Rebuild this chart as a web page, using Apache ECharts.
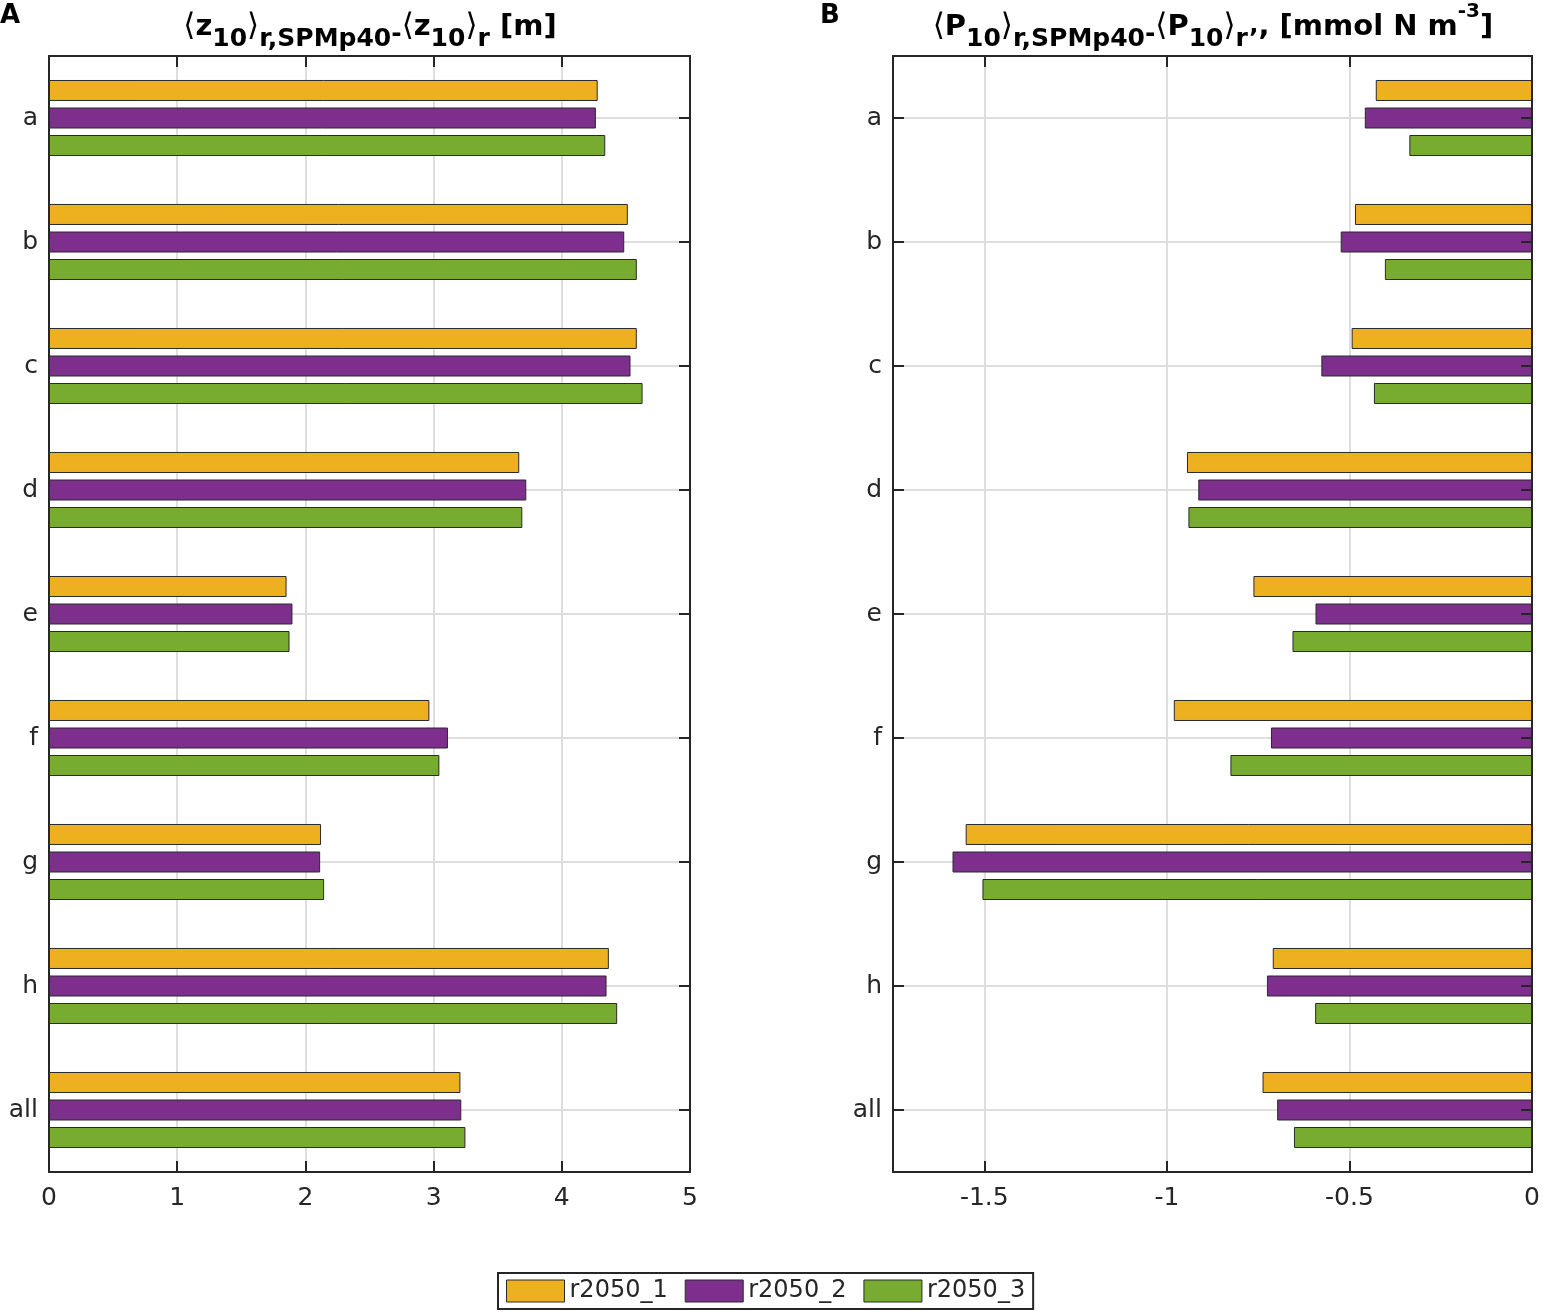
<!DOCTYPE html>
<html><head><meta charset="utf-8">
<script src="https://cdn.jsdelivr.net/npm/echarts@6/dist/echarts.min.js"></script>
<style>html,body{margin:0;padding:0;background:#fff;overflow:hidden}#c{width:1543px;height:1312px}</style>
</head><body><div id="c"></div>
<script>
const categories = ['a','b','c','d','e','f','g','h','all'];
const seriesNames = ['r2050_1','r2050_2','r2050_3'];
const colors = ['#EDB120','#7E2F8E','#77AC30'];
// Panel A: <z10>r,SPMp40 - <z10>r [m]
const zA_r2050_1 = [4.28, 4.515, 4.585, 3.668, 1.853, 2.967, 2.122, 4.367, 3.209];
const zA_r2050_2 = [4.266, 4.487, 4.536, 3.723, 1.899, 3.112, 2.115, 4.349, 3.216];
const zA_r2050_3 = [4.339, 4.585, 4.630, 3.692, 1.876, 3.045, 2.146, 4.432, 3.248];
// Panel B: <P10>r,SPMp40 - <P10>r [mmol N m-3]
const pB_r2050_1 = [-0.428, -0.485, -0.494, -0.945, -0.763, -0.981, -1.551, -0.710, -0.738];
const pB_r2050_2 = [-0.458, -0.524, -0.577, -0.914, -0.593, -0.715, -1.587, -0.726, -0.698];
const pB_r2050_3 = [-0.336, -0.403, -0.433, -0.941, -0.656, -0.826, -1.505, -0.594, -0.652];
const xRangeA = [0, 5];
const xRangeB = [-1.75, 0];

const FONT = 'DejaVu Sans';
const AX = '#262626';
const GRIDC = '#dedede';

function xAx(grid, range, pos, labels, split, interval, z) {
  const o = {
    type: 'value', gridIndex: grid, min: range[0], max: range[1], position: pos, z: z,
    axisLine: {show: true, onZero: false, lineStyle: {color: AX, width: 2}},
    axisTick: {show: true, inside: true, length: 11, lineStyle: {color: AX, width: 2}},
    axisLabel: {show: labels, fontSize: 25, color: AX, fontFamily: FONT, margin: 14,
      formatter: v => (v === -1.75 ? '' : String(v))},
    splitLine: {show: split, lineStyle: {color: GRIDC, width: 2}}
  };
  if (interval) o.interval = interval; else o.splitNumber = 4;
  return o;
}
function yAx(grid, pos, labels, split, z) {
  return {
    type: 'category', gridIndex: grid, data: categories, inverse: true, position: pos, z: z,
    axisLine: {show: true, onZero: false, lineStyle: {color: AX, width: 2}},
    axisTick: {show: true, inside: true, alignWithLabel: true, length: 11, lineStyle: {color: AX, width: 2}},
    axisLabel: {show: labels, fontSize: 25, color: AX, fontFamily: FONT, margin: 11},
    splitLine: {show: split, alignWithLabel: true, lineStyle: {color: GRIDC, width: 2}}
  };
}

const dataA = [zA_r2050_1, zA_r2050_2, zA_r2050_3];
const dataB = [pB_r2050_1, pB_r2050_2, pB_r2050_3];
const series = [];
[[dataA, 0, 0], [dataB, 2, 2]].forEach(([d, xi, yi]) => {
  d.forEach((vals, i) => {
    series.push({
      type: 'bar', name: seriesNames[i], xAxisIndex: xi, yAxisIndex: yi, data: vals,
      barWidth: 21, barGap: '31%', z: 2,
      itemStyle: {color: colors[i], borderColor: '#2a2a2a', borderWidth: 1}
    });
  });
});

const richStyle = {
  m: {fontSize: 29, fontWeight: 'bold', fontFamily: FONT, fill: '#000'},
  b: {fontSize: 31, fontWeight: 'normal', fontFamily: FONT, fill: '#000'},
  s: {fontSize: 25, fontWeight: 'bold', fontFamily: FONT, fill: '#000', padding: [24, 0, 0, 0]},
  d: {fontSize: 25, fontWeight: 'bold', fontFamily: FONT, fill: '#000', padding: [15, 0, 0, 0]},
  u: {fontSize: 20, fontWeight: 'bold', fontFamily: FONT, fill: '#000', padding: [0, 0, 31, 0]}
};
const titleA = '{b|⟨}{m|z}{s|10}{b|⟩}{s|r,SPMp40}{d|-}{b|⟨}{m|z}{s|10}{b|⟩}{s|r}{m| [m]}';
const titleB = '{b|⟨}{m|P}{s|10}{b|⟩}{s|r,SPMp40}{d|-}{b|⟨}{m|P}{s|10}{b|⟩}{s|r’}{m|, [mmol N m}{u|-3}{m|]}';

const chart = echarts.init(document.getElementById('c'), null, {renderer: 'canvas'});
chart.setOption({
  animation: false,
  backgroundColor: '#fff',
  grid: [
    {left: 49, top: 56, width: 641, height: 1116},
    {left: 893, top: 56, width: 641, height: 1116}
  ],
  xAxis: [
    xAx(0, xRangeA, 'bottom', true, true, 1, 0),
    xAx(0, xRangeA, 'top', false, false, 1, 5),
    xAx(1, xRangeB, 'bottom', true, true, null, 0),
    xAx(1, xRangeB, 'top', false, false, null, 5)
  ],
  yAxis: [
    yAx(0, 'left', true, true, 0),
    yAx(0, 'right', false, false, 5),
    yAx(1, 'left', true, true, 0),
    yAx(1, 'right', false, false, 5)
  ],
  legend: {
    data: seriesNames, left: 498, top: 1273, orient: 'horizontal', icon: 'rect',
    itemWidth: 58, itemHeight: 22, itemGap: 17, padding: [6, 8],
    borderColor: AX, borderWidth: 2, backgroundColor: '#fff',
    textStyle: {fontSize: 24, color: AX, fontFamily: FONT},
    itemStyle: {borderColor: '#2a2a2a', borderWidth: 1}
  },
  graphic: [
    {type: 'text', x: 370, y: 27, style: {text: titleA, rich: richStyle, align: 'center', verticalAlign: 'middle', font: 'bold 29px "DejaVu Sans"'}},
    {type: 'text', x: 1213, y: 27, style: {text: titleB, rich: richStyle, align: 'center', verticalAlign: 'middle', font: 'bold 29px "DejaVu Sans"'}},
    {type: 'text', x: 0, y: 16, style: {text: 'A', fill: '#000', font: 'bold 26px "DejaVu Sans"', align: 'left', verticalAlign: 'middle'}},
    {type: 'text', x: 820, y: 16, style: {text: 'B', fill: '#000', font: 'bold 26px "DejaVu Sans"', align: 'left', verticalAlign: 'middle'}}
  ],
  series: series
});
</script></body></html>
